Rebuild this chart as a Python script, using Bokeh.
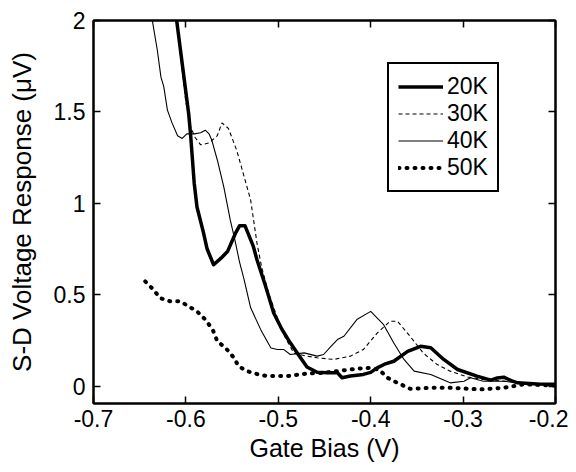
from bokeh.plotting import figure
from bokeh.models import LinearAxis, FixedTicker, Legend, LegendItem
from bokeh.embed import file_html
from bokeh.resources import INLINE

# ---- data ----
x_20K = [-0.612, -0.610, -0.597, -0.595, -0.591, -0.588, -0.581, -0.577, -0.570, -0.562, -0.555, -0.546,
         -0.542, -0.536, -0.527, -0.523, -0.514, -0.505, -0.496, -0.487, -0.478, -0.469, -0.458, -0.447,
         -0.436, -0.431, -0.422, -0.408, -0.400, -0.393, -0.385, -0.375, -0.360, -0.346, -0.335, -0.321,
         -0.306, -0.285, -0.270, -0.263, -0.256, -0.248, -0.241, -0.220, -0.200]
y_20K = [2.08, 2.00, 1.49, 1.38, 1.11, 0.98, 0.84, 0.75, 0.664, 0.70, 0.736, 0.84,
         0.877, 0.877, 0.764, 0.69, 0.55, 0.40, 0.31, 0.237, 0.17, 0.105, 0.076, 0.073,
         0.073, 0.046, 0.055, 0.064, 0.075, 0.10, 0.12, 0.136, 0.19, 0.218, 0.21, 0.146,
         0.091, 0.055, 0.033, 0.045, 0.049, 0.030, 0.018, 0.012, 0.010]

x_30K = [-0.612, -0.610, -0.600, -0.597, -0.595, -0.590, -0.584, -0.575, -0.566, -0.561, -0.554, -0.545,
         -0.537, -0.530, -0.523, -0.518, -0.510, -0.500, -0.492, -0.483, -0.470, -0.458, -0.440, -0.422,
         -0.408, -0.393, -0.379, -0.371, -0.357, -0.343, -0.328, -0.314, -0.295, -0.278, -0.241, -0.200]
y_30K = [2.08, 2.00, 1.55, 1.49, 1.42, 1.36, 1.32, 1.33, 1.37, 1.44, 1.41, 1.29,
         1.146, 1.02, 0.78, 0.65, 0.50, 0.36, 0.26, 0.18, 0.165, 0.155, 0.146, 0.164,
         0.20, 0.29, 0.355, 0.355, 0.27, 0.18, 0.118, 0.082, 0.05, 0.036, 0.022, 0.010]

x_40K = [-0.637, -0.636, -0.631, -0.627, -0.624, -0.620, -0.615, -0.609, -0.604, -0.599, -0.591, -0.584,
         -0.579, -0.575, -0.572, -0.566, -0.559, -0.552, -0.547, -0.542, -0.537, -0.530, -0.519, -0.508,
         -0.501, -0.494, -0.487, -0.472, -0.458, -0.451, -0.443, -0.436, -0.429, -0.415, -0.400, -0.386,
         -0.375, -0.364, -0.353, -0.335, -0.314, -0.299, -0.292, -0.278, -0.256, -0.241, -0.200]
y_40K = [2.05, 1.99, 1.84, 1.69, 1.64, 1.51, 1.44, 1.37, 1.355, 1.38, 1.38, 1.386,
         1.40, 1.38, 1.346, 1.237, 1.09, 0.909, 0.80, 0.68, 0.582, 0.43, 0.309, 0.209,
         0.20, 0.20, 0.173, 0.182, 0.164, 0.173, 0.218, 0.255, 0.273, 0.364, 0.409, 0.336,
         0.236, 0.146, 0.082, 0.064, 0.018, 0.027, 0.046, 0.027, 0.027, 0.018, 0.004]

x_50K = [-0.644, -0.635, -0.628, -0.617, -0.606, -0.597, -0.588, -0.579, -0.571, -0.566, -0.557, -0.548,
         -0.543, -0.534, -0.523, -0.512, -0.490, -0.469, -0.451, -0.422, -0.404, -0.391, -0.382, -0.371,
         -0.357, -0.335, -0.314, -0.281, -0.256, -0.234, -0.205, -0.200]
y_50K = [0.573, 0.527, 0.482, 0.464, 0.464, 0.436, 0.409, 0.364, 0.309, 0.245, 0.209, 0.155,
         0.109, 0.082, 0.066, 0.055, 0.055, 0.069, 0.073, 0.091, 0.100, 0.091, 0.046, 0.018,
         -0.015, -0.009, -0.009, -0.018, -0.009, 0.010, 0.004, 0.004]

series_labels = ["20K", "30K", "40K", "50K"]
x_ticks = [-0.7, -0.6, -0.5, -0.4, -0.3, -0.2]
x_tick_labels = ["-0.7", "-0.6", "-0.5", "-0.4", "-0.3", "-0.2"]
y_ticks = [0, 0.5, 1, 1.5, 2]
y_tick_labels = ["0", "0.5", "1", "1.5", "2"]

FONT = "Liberation Sans"

p = figure(width=568, height=464, x_range=(-0.7, -0.2), y_range=(-0.095, 2.0),
           output_backend="svg", toolbar_location=None,
           min_border_left=93, min_border_right=13, min_border_top=20, min_border_bottom=60)
p.xgrid.visible = False
p.ygrid.visible = False
p.outline_line_color = "black"
p.outline_line_width = 2
p.background_fill_color = "white"
p.border_fill_color = "white"

def style_axis(ax, show_labels=True):
    ax.major_tick_in = 7
    ax.major_tick_out = 0
    ax.minor_tick_line_color = None
    ax.major_tick_line_width = 1.5
    ax.major_tick_line_color = "black"
    ax.axis_line_width = 2
    ax.axis_line_color = "black"
    ax.major_label_text_font = FONT
    ax.major_label_text_color = "black"
    if show_labels:
        ax.major_label_text_font_size = "23px"
    else:
        ax.major_label_overrides = {t: "" for t in ax.ticker.ticks}
        ax.major_label_text_font_size = "1px"
        ax.major_label_standoff = 0

# bottom axis
xa = p.xaxis[0]
xa.ticker = FixedTicker(ticks=x_ticks)
xa.major_label_overrides = dict(zip(x_ticks, x_tick_labels))
style_axis(xa)
xa.major_label_standoff = 6
xa.axis_label = "Gate Bias (V)"
xa.axis_label_text_font = FONT
xa.axis_label_text_font_size = "25px"
xa.axis_label_text_font_style = "normal"
xa.axis_label_text_color = "black"
xa.axis_label_standoff = 4

# left axis
ya = p.yaxis[0]
ya.ticker = FixedTicker(ticks=y_ticks)
ya.major_label_overrides = dict(zip(y_ticks, y_tick_labels))
style_axis(ya)
ya.major_label_standoff = 8
ya.axis_label = "S-D Voltage Response (μV)"
ya.axis_label_text_font = FONT
ya.axis_label_text_font_size = "26px"
ya.axis_label_text_font_style = "normal"
ya.axis_label_text_color = "black"
ya.axis_label_standoff = 14

# top and right axes (ticks only)
ta = LinearAxis(ticker=FixedTicker(ticks=x_ticks))
style_axis(ta, show_labels=False)
p.add_layout(ta, "above")
ra = LinearAxis(ticker=FixedTicker(ticks=y_ticks))
style_axis(ra, show_labels=False)
p.add_layout(ra, "right")

r20 = p.line(x_20K, y_20K, line_color="black", line_width=3.5, line_join="round")
r30 = p.line(x_30K, y_30K, line_color="black", line_width=1.1, line_dash="4 3")
r40 = p.line(x_40K, y_40K, line_color="black", line_width=1.1)
r50 = p.line(x_50K, y_50K, line_color="black", line_width=4, line_dash="1 7", line_cap="round")

legend = Legend(items=[LegendItem(label=series_labels[0], renderers=[r20]),
                       LegendItem(label=series_labels[1], renderers=[r30]),
                       LegendItem(label=series_labels[2], renderers=[r40]),
                       LegendItem(label=series_labels[3], renderers=[r50])],
                location=(294, 211), margin=0, padding=9, spacing=0,
                glyph_width=45, glyph_height=27, label_height=27, label_standoff=4,
                label_text_font=FONT, label_text_font_size="23px", label_text_color="black",
                border_line_color="black", border_line_width=2, border_line_alpha=1,
                background_fill_color="white", background_fill_alpha=1)
p.add_layout(legend)

open("out.html", "w").write(file_html(p, INLINE))
